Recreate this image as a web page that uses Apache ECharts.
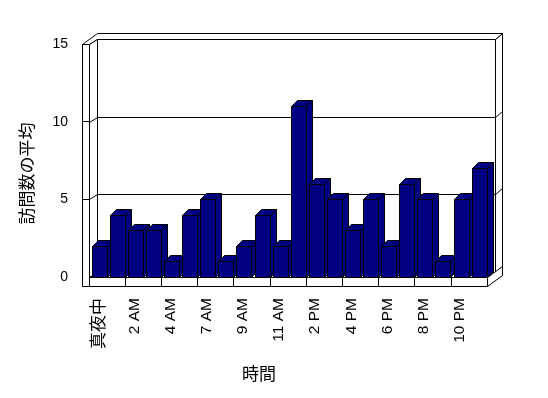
<!DOCTYPE html>
<html>
<head>
<meta charset="utf-8">
<script src="https://cdn.jsdelivr.net/npm/echarts@6/dist/echarts.min.js"></script>
<style>html,body{margin:0;padding:0;background:#fff;}#c{width:548px;height:398px;}</style>
</head>
<body>
<div id="c"></div>
<script>
const categories = ['真夜中','1 AM','2 AM','3 AM','4 AM','5 AM','7 AM','8 AM','9 AM','10 AM','11 AM','正午',
  '2 PM','3 PM','4 PM','5 PM','6 PM','7 PM','8 PM','9 PM','10 PM','11 PM'];
const values = [2,4,3,3,1,4,5,1,2,4,2,11,6,5,3,5,2,6,5,1,5,7];
const yTicks = [0,5,10,15];
const xTitle = '時間';
const yTitle = '訪問数の平均';

const chart = echarts.init(document.getElementById('c'), null, {renderer:'canvas'});
const NAVY = '#000080';
const D = [8,-5];   // wall depth
const BT = [7,-6];  // back wall thickness
const WT = 7;       // left wall thickness
const FT = 9;       // floor thickness
const BD = [6,-6];  // bar depth
const px = v => Math.round(v) + 0.5;
const line = {stroke:'#000', lineWidth:1};

function renderFrame(params, api){
  const cs = params.coordSys;
  const L = px(cs.x), R = px(cs.x + cs.width), T = px(cs.y), B = px(cs.y + cs.height);
  const dx = D[0], dy = D[1], bx = BT[0], by = BT[1];
  const poly = (pts) => ({type:'polygon', shape:{points:pts}, style:Object.assign({fill:'#fff'}, line), silent:true});
  const children = [];
  children.push(poly([[L+dx,T+dy],[R+dx,T+dy],[R+dx,B+dy],[L+dx,B+dy]]));
  children.push(poly([[R+dx,T+dy],[R+dx+bx,T+dy+by],[R+dx+bx,B+dy+by],[R+dx,B+dy]]));
  children.push(poly([[L-WT,T],[L,T],[L+dx,T+dy],[R+dx,T+dy],[R+dx+bx,T+dy+by],[L-WT+dx+bx,T+dy+by]]));
  children.push(poly([[L,T],[L+dx,T+dy],[L+dx,B+dy],[L,B]]));
  children.push(poly([[L,B],[L+dx,B+dy],[R+dx,B+dy],[R,B]]));
  children.push(poly([[R,B],[R+dx+bx,B+dy+by],[R+dx+bx,B+dy+by+FT],[R,B+FT]]));
  children.push(poly([[L-WT,T],[L,T],[L,B],[R,B],[R,B+FT],[L-WT,B+FT]]));
  yTicks.forEach(v => {
    if (v === 0 || v === yTicks[yTicks.length-1]) return;
    const y = px(api.coord([0, v])[1]);
    children.push({type:'polyline', shape:{points:[[L,y],[L+dx,y+dy],[R+dx,y+dy],[R+dx+bx,y+dy+by]]},
      style:Object.assign({fill:null}, line), silent:true});
  });
  return {type:'group', children};
}

function renderBar(params, api){
  const idx = api.value(0), val = api.value(1);
  const top = api.coord([idx, val]);
  const base = api.coord([idx, 0]);
  const bw = api.size([1,0])[0];
  const right = px(top[0] + bw/2 - 0.4);
  const w = Math.round(bw * 0.83);
  const left = right - w;
  const ty = px(top[1]), by = px(base[1]);
  const st = {fill:NAVY, stroke:'#000', lineWidth:1};
  return {type:'group', children:[
    {type:'polygon', shape:{points:[[right,ty],[right+BD[0],ty+BD[1]],[right+BD[0],by+BD[1]],[right,by]]}, style:st},
    {type:'polygon', shape:{points:[[left,ty],[left+BD[0],ty+BD[1]],[right+BD[0],ty+BD[1]],[right,ty]]}, style:st},
    {type:'rect', shape:{x:left, y:ty, width:w, height:by-ty}, style:st}
  ]};
}

chart.setOption({
  animation:false,
  backgroundColor:'#fff',
  grid:{left:89, right:61, top:44, bottom:121},
  xAxis:{
    type:'category', data:categories,
    name:xTitle, nameLocation:'middle', nameGap:88,
    nameTextStyle:{fontFamily:'Noto Sans CJK JP', fontSize:17, color:'#000', padding:[0,58,0,0]},
    axisLine:{show:false},
    axisTick:{show:true, length:9, lineStyle:{color:'#000', width:1}},
    axisLabel:{interval:1, rotate:90, margin:21, color:'#000', fontFamily:'Liberation Sans', fontSize:15.5,
      formatter:(v)=> /[^\x00-\x7f]/.test(v) ? '{cjk|'+v+'}' : v,
      rich:{cjk:{fontFamily:'Noto Sans CJK JP', fontSize:17, color:'#000'}}},
    splitLine:{show:false}
  },
  yAxis:{
    type:'value', min:yTicks[0], max:yTicks[yTicks.length-1], interval:5,
    name:yTitle, nameLocation:'middle', nameGap:54,
    nameTextStyle:{fontFamily:'Noto Sans CJK JP', fontSize:17, color:'#000', padding:[0,26,0,0]},
    axisLine:{show:false},
    axisTick:{show:true, length:7, customValues:yTicks.slice(1), lineStyle:{color:'#000', width:1}},
    axisLabel:{margin:21, color:'#000', fontFamily:'Liberation Sans', fontSize:14},
    splitLine:{show:false}
  },
  series:[
    {type:'custom', z:-1, silent:true, data:[[0,0]], renderItem:renderFrame, clip:false},
    {type:'custom', z:2, data:values.map((v,i)=>[i,v]), renderItem:renderBar, clip:false,
      encode:{x:0, y:1}}
  ]
});
</script>
</body>
</html>
